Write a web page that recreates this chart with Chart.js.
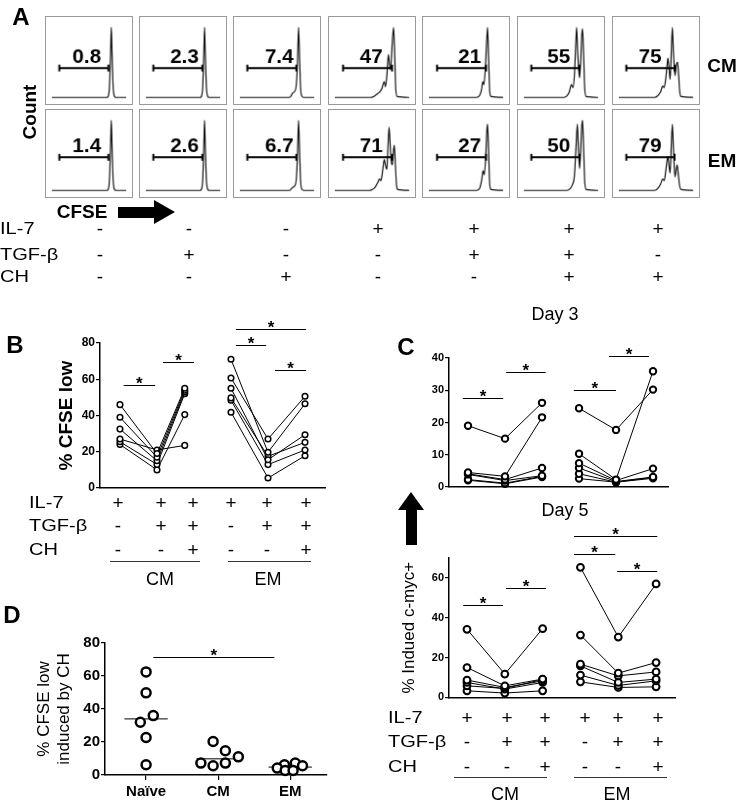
<!DOCTYPE html>
<html>
<head>
<meta charset="utf-8">
<script src="https://cdn.jsdelivr.net/npm/chart.js@4.4.1/dist/chart.umd.min.js"></script>
<style>
body { margin: 0; background: #fff; }
#fig { position: relative; width: 741px; height: 803px; overflow: hidden; font-family: "Liberation Sans", Arial, sans-serif; color: #000; }
#fig canvas { position: absolute; }
.hist { border: 1px solid #999; }
.t { position: absolute; white-space: nowrap; line-height: 1; transform: translate(-50%, -50%); filter: grayscale(1); }
.blk { position: absolute; background: #000; }
.uline { position: absolute; height: 0; border-top: 1px solid #333; }
</style>
</head>
<body>
<div id="fig"></div>
<script>
// ---- data ----
// panel A: CFSE histograms (x = CFSE position 0-100, y = % of max count)
var pctCM = ['0.8', '2.3', '7.4', '47', '21', '55', '75'];
var pctEM = ['1.4', '2.6', '6.7', '71', '27', '50', '79'];
var histCM = [
  [[0,1],[74,1],[76,3],[77.5,15],[79,60],[80,94],[81,60],[82.5,15],[84,3],[86,1],[100,1]],
  [[0,1],[73,1],[75,3],[76.5,15],[78,60],[79,94],[80,60],[81.5,15],[83,3],[85,1],[100,1]],
  [[0,1],[67,1],[69,3],[71,7],[73,8],[75.5,14],[77.5,45],[79,94],[80.5,50],[82,10],[84,2],[86,1],[100,1]],
  [[0,1],[48,1],[52,2],[56,5],[60,8],[63,12],[66.5,22],[68,15],[70,30],[72,58],[73.5,45],[75,38],[77,70],[79,94],[80.5,60],[82,12],[84,2],[100,1]],
  [[0,1],[64,1],[68,3],[71,12],[72.5,22],[74,18],[76,40],[78,80],[79,94],[80.5,50],[82,8],[84,2],[100,1]],
  [[0,1],[54,1],[58,3],[61,8],[64,18],[66,14],[68,30],[70,75],[71,94],[72.5,60],[74,35],[75,27],[76.5,50],[78,85],[79,92],[80.5,55],[82,12],[84,2],[100,1]],
  [[0,1],[48,1],[52,3],[56,8],[59,16],[61,14],[63,25],[65,45],[66,53],[67.5,40],[69,25],[70.5,60],[72,94],[73.5,60],[75.5,30],[77.5,45],[79,48],[80.5,30],[82,8],[84,2],[100,1]]
];
var histEM = [
  [[0,1],[74,1],[76,3],[77.5,15],[79,60],[80,94],[81,60],[82.5,15],[84,3],[86,1],[100,1]],
  [[0,1],[73,1],[75,3],[76.5,15],[78,60],[79,94],[80,60],[81.5,15],[83,3],[85,1],[100,1]],
  [[0,1],[67,1],[69,3],[71,5],[73,6],[75.5,12],[77.5,45],[79,94],[80.5,50],[82,10],[84,2],[86,1],[100,1]],
  [[0,1],[46,1],[50,2],[54,5],[58,12],[60,16],[62,14],[64,25],[66.5,42],[68,35],[70,29],[71.5,60],[73,85],[74.5,60],[76,38],[77.5,35],[79,55],[80,61],[81.5,35],[83,8],[85,2],[100,1]],
  [[0,1],[64,1],[68,3],[71,14],[73,27],[74.5,22],[76.5,45],[78,80],[79,89],[80.5,50],[82,8],[84,2],[100,1]],
  [[0,1],[58,1],[62,3],[65,8],[68,20],[70,55],[72,89],[73.5,55],[75,30],[76.5,55],[78,88],[79,94],[80.5,55],[82,12],[84,2],[100,1]],
  [[0,1],[48,1],[52,3],[56,9],[59,16],[61,14],[63,26],[65,42],[66,46],[67.5,34],[69,24],[70.5,60],[72,89],[73.5,55],[75.5,19],[77,28],[78.5,35],[80,22],[82,6],[84,2],[100,1]]
];
var gateFrom = [10, 10, 10, 11, 11, 10, 10];
var gateTo = [76, 76, 76, 77, 77, 75, 75];

var condRows = ['IL-7', 'TGF-β', 'CH'];
var condA = [['-','-','-','+','+','+','+'], ['-','+','-','-','+','+','-'], ['-','-','+','-','-','+','+']];
var condBC = [['+','+','+','+','+','+'], ['-','+','+','-','+','+'], ['-','-','+','-','-','+']];
var groupNames = ['CM', 'EM'];

// panel B: % CFSE low, one row per donor (3 conditions)
var bX = [1, 2, 2.75, 4, 5, 6];
var bCM = [[46,19,55],[39,17,54],[32.5,15,53],[27,21,23.5],[25.5,13,52],[24,10,40.5]];
var bEM = [[71,19.7,46.5],[60.7,27,50.6],[55,15.6,29.4],[49.7,17.5,25.2],[48.4,12.9,21],[41.8,5.5,17.8]];
var bSig = [[1.1,1.95,56.8],[2.16,3.0,69.5],[4.13,4.95,78.9],[4.13,6.03,87.7],[5.19,6.03,65.1]];

// panel C: % induced c-myc+
var cX = [1, 2, 3, 4, 5, 6];
var c3CM = [[19,15,26.1],[4.5,3.3,21.6],[4.1,2.3,5.9],[3.9,2,3.5],[2.3,1.2,3.3],[2.1,1,3.1]];
var c3EM = [[24.4,17.7,30.2],[10.3,2.3,35.9],[7.4,2,5.7],[5.9,1.7,3.1],[4.1,1.5,3],[2.6,1.5,2.7]];
var c3Sig = [[0.86,1.95,27.6],[2.03,3.1,35.7],[3.86,5.0,30],[4.81,5.89,40.6]];
var c5CM = [[34.2,11.7,34.5],[15,5.8,9.2],[8.7,5,8.3],[7.5,4.2,7.5],[5.8,4.5,9],[3.3,2.2,3.3]];
var c5EM = [[65.3,30.3,57],[31.3,12.2,17.5],[16.7,10.8,12.8],[15.8,7.5,9.2],[11.2,6,8.3],[7.8,5,5.3]];
var c5Sig = [[0.9,1.95,46.5],[2.03,3.09,55],[3.83,4.92,72],[3.83,6.03,81],[4.97,6.03,63.5]];

// panel D: % CFSE low induced by CH
var dCats = ['Naïve', 'CM', 'EM'];
var dVals = [[62.5,49.8,36,32,22.7,6.2], [20.3,14.7,11,7.2,5.6,7.2], [6.2,7.2,5.6,4.2,2.8,2.8]];
var dJitter = [[0,0,0.1,-0.08,0,0], [-0.07,0.1,0.28,-0.24,-0.07,0.1], [-0.08,0.07,0.17,-0.18,-0.07,0.04]];
var dMedian = [34, 9.8, 4.8];
var dSig = [[1.1,2.78,71.5]];

// ---- helpers ----
var FONT = '"Liberation Sans", Arial, sans-serif';
Chart.defaults.font.family = FONT;
Chart.defaults.color = '#000';
var fig = document.getElementById('fig');

function txt(s, x, y, css) {
  var d = document.createElement('div');
  d.className = 't';
  d.textContent = s;
  d.style.left = x + 'px';
  d.style.top = y + 'px';
  if (css) d.style.cssText += css;
  fig.appendChild(d);
  return d;
}
function blk(x, y, w, h, css) {
  var d = document.createElement('div');
  d.className = 'blk';
  d.style.left = x + 'px'; d.style.top = y + 'px';
  d.style.width = w + 'px'; d.style.height = h + 'px';
  if (css) d.style.cssText += css;
  fig.appendChild(d);
}
function uline(x1, x2, y) {
  var d = document.createElement('div');
  d.className = 'uline';
  d.style.left = x1 + 'px'; d.style.top = y + 'px'; d.style.width = (x2 - x1) + 'px';
  fig.appendChild(d);
}
function addCanvas(x, y, w, h, cls) {
  var c = document.createElement('canvas');
  c.width = w; c.height = h;
  c.style.left = x + 'px'; c.style.top = y + 'px';
  if (cls) c.className = cls;
  fig.appendChild(c);
  return c;
}

var SIGN = 'font-size:19px;';
var LEFTLBL = 'font-size:17px;transform:translate(0,-50%) scaleX(1.18);transform-origin:0 50%;';

function sigBars(bars) {
  return {
    id: 'sig',
    afterDatasetsDraw: function (chart) {
      var ctx = chart.ctx, x = chart.scales.x, y = chart.scales.y;
      ctx.save();
      ctx.strokeStyle = '#000'; ctx.fillStyle = '#000'; ctx.lineWidth = 1;
      ctx.font = 'bold 17px ' + FONT;
      ctx.textAlign = 'center'; ctx.textBaseline = 'alphabetic';
      bars.forEach(function (b) {
        var x1 = x.getPixelForValue(b[0]), x2 = x.getPixelForValue(b[1]);
        var yy = Math.round(y.getPixelForValue(b[2])) + 0.5;
        ctx.beginPath(); ctx.moveTo(x1, yy); ctx.lineTo(x2, yy); ctx.stroke();
        ctx.fillText('*', (x1 + x2) / 2, yy + 3);
      });
      ctx.restore();
    }
  };
}

function yAxis(max, step, width, font, title) {
  return {
    type: 'linear', min: 0, max: max,
    afterFit: function (s) { s.width = width; },
    afterBuildTicks: function (s) { s.ticks = s.ticks.filter(function (t) { return t.value % step === 0; }); },
    ticks: { stepSize: step, font: font, padding: 1, color: '#000' },
    grid: { display: true, drawOnChartArea: false, tickLength: 4, color: '#000', lineWidth: 1.2 },
    border: { display: true, color: '#000', width: 1.5 },
    title: title || { display: false }
  };
}
function xAxis(min, max, height) {
  return {
    type: 'linear', min: min, max: max,
    afterFit: function (s) { s.height = height; },
    ticks: { display: false },
    grid: { display: false },
    border: { display: true, color: '#000', width: 1.5 }
  };
}

function paired(p) {
  var c = addCanvas(p.box[0], p.box[1], p.box[2], p.box[3]);
  var sets = [];
  [p.cm, p.em].forEach(function (g, gi) {
    g.forEach(function (d) {
      sets.push({
        data: d.map(function (v, i) { return { x: p.xs[gi * 3 + i], y: v }; }),
        showLine: true, borderColor: '#000', borderWidth: 1,
        pointRadius: p.r, pointBorderWidth: p.bw,
        pointBackgroundColor: '#fff', pointBorderColor: '#000', clip: false
      });
    });
  });
  return new Chart(c, {
    type: 'scatter',
    data: { datasets: sets },
    options: {
      responsive: false, animation: false, devicePixelRatio: 1,
      layout: { padding: p.pad },
      plugins: { legend: { display: false }, tooltip: { enabled: false } },
      scales: {
        x: xAxis(p.xMin, p.xMax, 2),
        y: yAxis(p.yMax, p.step, p.yW, p.tickFont, p.title)
      }
    },
    plugins: [sigBars(p.sig)]
  });
}

// ---- panel A ----
var colLeft = [45, 139, 233, 328, 422, 517, 612];
var rowTop = [16, 109];
var lblX = [47, 52, 53, 49, 55, 47, 42];
[[histCM, pctCM, 40, 54], [histEM, pctEM, 45, 60]].forEach(function (row, ri) {
  row[0].forEach(function (h, i) {
    var c = addCanvas(colLeft[i], rowTop[ri], 88, 89, 'hist');
    var label = row[1][i], gy = row[2], ly = row[3], lx = lblX[i];
    new Chart(c, {
      type: 'scatter',
      data: { datasets: [
        { data: [{ x: gateFrom[i], y: gy }, { x: gateTo[i], y: gy }], showLine: true,
          borderColor: '#000', borderWidth: 2, pointStyle: 'line', pointRotation: 90,
          pointRadius: 3.5, pointBorderWidth: 2, pointBorderColor: '#000' },
        { data: h.map(function (p) { return { x: p[0], y: p[1] }; }), showLine: true,
          borderColor: '#111', borderWidth: 1.2, pointRadius: 0,
          cubicInterpolationMode: 'monotone' }
      ] },
      options: {
        responsive: false, animation: false, devicePixelRatio: 1,
        layout: { padding: 0 },
        plugins: { legend: { display: false }, tooltip: { enabled: false } },
        scales: { x: { display: false, min: 0, max: 100 }, y: { display: false, min: 0, max: 100 } }
      },
      plugins: [{
        id: 'pct',
        afterDatasetsDraw: function (chart) {
          var ctx = chart.ctx;
          ctx.save();
          ctx.font = 'bold 21px ' + FONT;
          ctx.fillStyle = '#000';
          ctx.textAlign = 'center'; ctx.textBaseline = 'middle';
          ctx.fillText(label, chart.scales.x.getPixelForValue(lx), chart.scales.y.getPixelForValue(ly));
          ctx.restore();
        }
      }]
    });
  });
});

txt('A', 21, 17, 'font-size:24px;font-weight:bold;');
txt('Count', 29, 112, 'font-size:19px;font-weight:bold;transform:translate(-50%,-50%) rotate(-90deg);');
txt('CM', 722, 65, 'font-size:19px;font-weight:bold;');
txt('EM', 722, 160, 'font-size:19px;font-weight:bold;');
txt('CFSE', 82, 211, 'font-size:19px;font-weight:bold;');
blk(118, 207, 37, 11);
blk(154, 200, 0, 0, 'background:none;border-top:12px solid transparent;border-bottom:12px solid transparent;border-left:21px solid #000;');

var colA = [100, 189, 286, 378, 474, 569, 658];
var rowA = [228, 254, 276];
condRows.forEach(function (r, ri) {
  txt(r, 0, rowA[ri], LEFTLBL);
  condA[ri].forEach(function (s, ci) { txt(s, colA[ci], rowA[ri], SIGN); });
});

// ---- panel B ----
paired({
  box: [0, 300, 340, 200], pad: { left: 55, top: 43, right: 15, bottom: 10 }, yW: 45,
  xs: bX, xMin: 0.46, xMax: 6.54, cm: bCM, em: bEM, yMax: 80, step: 20,
  r: 2.8, bw: 1.5, sig: bSig,
  tickFont: { size: 12, weight: 'bold' },
  title: { display: true, text: '% CFSE low', font: { size: 19, weight: 'bold' }, padding: 0, color: '#000' }
});
txt('B', 15, 345, 'font-size:24px;font-weight:bold;');
var colB = [118, 161, 193, 231, 267, 306];
var rowB = [502, 525, 549];
condRows.forEach(function (r, ri) {
  txt(r, 29, rowB[ri], LEFTLBL);
  condBC[ri].forEach(function (s, ci) { txt(s, colB[ci], rowB[ri], SIGN); });
});
uline(110, 200, 561); uline(228, 311, 561);
txt(groupNames[0], 160, 579, 'font-size:18px;');
txt(groupNames[1], 268, 579, 'font-size:18px;');

// ---- panel C ----
txt('Day 3', 555, 314, 'font-size:18px;');
txt('C', 406, 347, 'font-size:24px;font-weight:bold;');
paired({
  box: [370, 325, 320, 170], pad: { left: 20, top: 33, right: 22, bottom: 6 }, yW: 59,
  xs: cX, xMin: 0.486, xMax: 6.405, cm: c3CM, em: c3EM, yMax: 40, step: 10,
  r: 3.2, bw: 2, sig: c3Sig,
  tickFont: { size: 11, weight: 'bold' }
});
txt('Day 5', 565, 510, 'font-size:18px;');
blk(398, 492, 0, 0, 'background:none;border-left:13px solid transparent;border-right:13px solid transparent;border-bottom:18px solid #000;');
blk(406, 509, 11, 36);
paired({
  box: [370, 515, 320, 190], pad: { left: 29, top: 43, right: 15, bottom: 5 }, yW: 50,
  xs: cX, xMin: 0.524, xMax: 6.5, cm: c5CM, em: c5EM, yMax: 70, step: 20,
  r: 3.4, bw: 2, sig: c5Sig,
  tickFont: { size: 11, weight: 'bold' },
  title: { display: true, text: '% Indued c-myc+', font: { size: 17 }, padding: 0, color: '#000' }
});
var colC = [467, 507, 545, 585, 618, 658];
var rowC = [717, 741, 766];
condRows.forEach(function (r, ri) {
  txt(r, 388, rowC[ri], LEFTLBL);
  condBC[ri].forEach(function (s, ci) { txt(s, colC[ci], rowC[ri], SIGN); });
});
uline(454, 547, 777); uline(574, 667, 777);
txt(groupNames[0], 505, 794, 'font-size:18px;');
txt(groupNames[1], 617, 794, 'font-size:18px;');

// ---- panel D ----
txt('D', 12, 615, 'font-size:24px;font-weight:bold;');
(function () {
  var c = addCanvas(0, 625, 340, 178);
  var sets = [];
  dVals.forEach(function (vals, gi) {
    sets.push({
      data: vals.map(function (v, i) { return { x: gi + 1 + dJitter[gi][i], y: v }; }),
      pointRadius: 4.5, pointBorderWidth: 2.5, pointBackgroundColor: '#fff', pointBorderColor: '#000', clip: false
    });
    sets.push({
      data: [{ x: gi + 1 - 0.3, y: dMedian[gi] }, { x: gi + 1 + 0.3, y: dMedian[gi] }],
      showLine: true, borderColor: '#000', borderWidth: 1, pointRadius: 0
    });
  });
  new Chart(c, {
    type: 'scatter',
    data: { datasets: sets },
    options: {
      responsive: false, animation: false, devicePixelRatio: 1,
      layout: { padding: { left: 34, top: 18, right: 13, bottom: 0 } },
      plugins: { legend: { display: false }, tooltip: { enabled: false } },
      scales: {
        x: {
          type: 'linear', min: 0.43, max: 3.51,
          afterFit: function (s) { s.height = 28; },
          afterBuildTicks: function (s) { s.ticks = [1, 2, 3].map(function (v) { return { value: v }; }); },
          ticks: { font: { size: 15, weight: 'bold' }, padding: 3, color: '#000',
                   callback: function (v, i) { return dCats[i]; } },
          grid: { display: true, drawOnChartArea: false, tickLength: 5, color: '#000', lineWidth: 1.2 },
          border: { display: true, color: '#000', width: 1.5 }
        },
        y: yAxis(80, 20, 71, { size: 15, weight: 'bold' },
          { display: true, text: ['% CFSE low', 'induced by CH'], font: { size: 17 }, padding: 0, color: '#000' })
      }
    },
    plugins: [sigBars(dSig)]
  });
})();
</script>
</body>
</html>
